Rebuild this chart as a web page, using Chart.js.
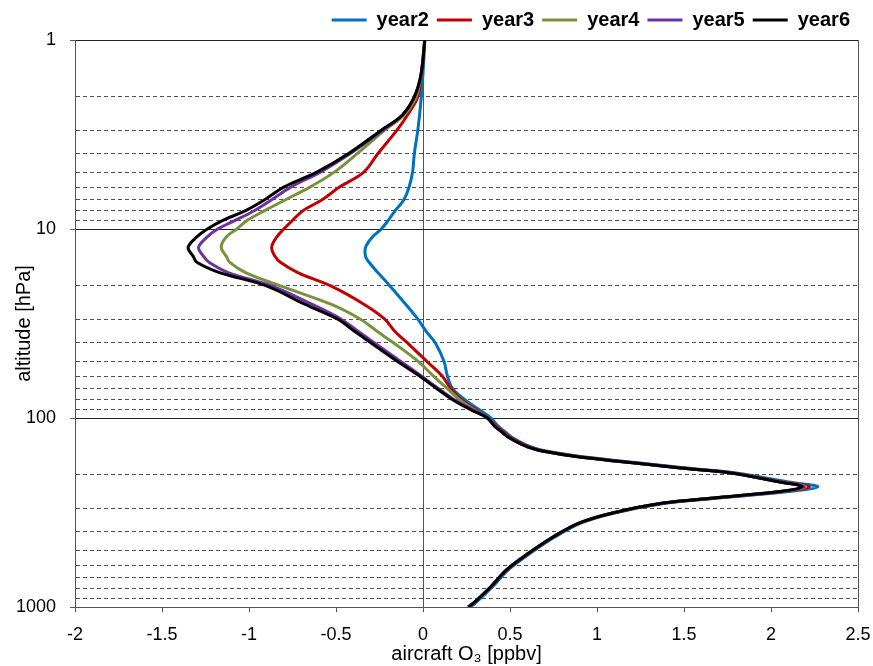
<!DOCTYPE html>
<html>
<head>
<meta charset="utf-8">
<script src="https://cdn.jsdelivr.net/npm/chart.js@4.4.1/dist/chart.umd.min.js"></script>
<style>
  html, body { margin: 0; padding: 0; background: #fff; }
  #wrap { width: 873px; height: 666px; }
</style>
</head>
<body>
<div id="wrap"><canvas id="o3Chart" width="873" height="666"></canvas></div>
<script>
// pressure levels [hPa] shared by all series
const pressureLevels = [1, 1.5, 2, 2.5, 3, 4, 5, 6, 7, 8, 9, 10, 11, 12.5, 14, 15, 17, 20, 25, 30, 35, 40, 50, 60, 70, 80, 90,
  100, 110, 120, 128, 142, 151, 161, 172, 184, 195, 218, 231, 245, 265, 282, 318, 359, 425, 517, 636, 781, 955, 1000];

const seriesNames = ['year2', 'year3', 'year4', 'year5', 'year6'];

// aircraft O3 [ppbv]
const year2 = [0.01, 0.0, -0.01, -0.02, -0.03, -0.05, -0.06, -0.08, -0.11, -0.16, -0.20, -0.24, -0.29, -0.33, -0.33, -0.31, -0.26, -0.19, -0.10, -0.03, 0.02, 0.07, 0.12, 0.14, 0.17, 0.24, 0.32,
  0.39, 0.43, 0.48, 0.52, 0.62, 0.73, 0.93, 1.22, 1.51, 1.79, 2.10, 2.27, 2.10, 1.70, 1.40, 1.10, 0.91, 0.76, 0.62, 0.49, 0.40, 0.30, 0.27];
const year3 = [0.01, -0.01, -0.03, -0.09, -0.15, -0.26, -0.34, -0.48, -0.58, -0.69, -0.75, -0.80, -0.84, -0.87, -0.85, -0.82, -0.72, -0.53, -0.34, -0.22, -0.16, -0.09, 0.02, 0.11, 0.16, 0.22, 0.30,
  0.37, 0.42, 0.47, 0.51, 0.61, 0.72, 0.91, 1.20, 1.49, 1.77, 2.07, 2.22, 2.07, 1.68, 1.39, 1.09, 0.90, 0.75, 0.61, 0.48, 0.39, 0.29, 0.26];
const year4 = [0.01, -0.01, -0.04, -0.11, -0.22, -0.38, -0.51, -0.65, -0.79, -0.91, -1.01, -1.07, -1.13, -1.16, -1.13, -1.11, -1.02, -0.82, -0.53, -0.36, -0.26, -0.17, -0.03, 0.06, 0.14, 0.21, 0.29,
  0.37, 0.41, 0.46, 0.50, 0.60, 0.71, 0.90, 1.19, 1.48, 1.76, 2.06, 2.20, 2.06, 1.67, 1.38, 1.09, 0.90, 0.75, 0.61, 0.48, 0.39, 0.29, 0.26];
const year5 = [0.01, -0.01, -0.05, -0.12, -0.23, -0.42, -0.59, -0.76, -0.87, -0.97, -1.08, -1.18, -1.24, -1.29, -1.26, -1.23, -1.12, -0.87, -0.64, -0.47, -0.37, -0.28, -0.13, -0.01, 0.09, 0.18, 0.28,
  0.37, 0.41, 0.46, 0.50, 0.60, 0.71, 0.90, 1.19, 1.48, 1.76, 2.05, 2.19, 2.05, 1.67, 1.38, 1.09, 0.90, 0.75, 0.61, 0.48, 0.39, 0.29, 0.26];
const year6 = [0.01, -0.01, -0.05, -0.12, -0.24, -0.43, -0.61, -0.80, -0.91, -1.02, -1.15, -1.24, -1.30, -1.35, -1.32, -1.30, -1.17, -0.90, -0.68, -0.49, -0.39, -0.30, -0.15, -0.02, 0.08, 0.17, 0.27,
  0.37, 0.41, 0.46, 0.50, 0.60, 0.71, 0.90, 1.19, 1.48, 1.76, 2.05, 2.18, 2.05, 1.67, 1.38, 1.09, 0.90, 0.75, 0.61, 0.48, 0.39, 0.29, 0.26];

const seriesColors = ['#0070C0', '#C00000', '#77933C', '#7030A0', '#000000'];

const yTickValues = [1, 2, 3, 4, 5, 6, 7, 8, 9, 10, 20, 30, 40, 50, 60, 70, 80, 90, 100, 200, 300, 400, 500, 600, 700, 800, 900, 1000];
const yTickLabels = ['1', '10', '100', '1000'];

const allSeries = [year2, year3, year4, year5, year6];

const datasets = allSeries.map((vals, i) => ({
  label: seriesNames[i],
  data: vals.map((v, k) => ({ x: v, y: pressureLevels[k] })),
  borderColor: seriesColors[i],
  backgroundColor: seriesColors[i],
  borderWidth: 3,
  pointRadius: 0,
  showLine: true,
  tension: 0.35,
  order: allSeries.length - 1 - i   // year6 drawn on top
}));

Chart.defaults.font.family = '"Liberation Sans", Arial, sans-serif';
Chart.defaults.color = '#000';

const isDecade = v => Math.abs(Math.log10(v) - Math.round(Math.log10(v))) < 1e-9;

new Chart(document.getElementById('o3Chart').getContext('2d'), {
  type: 'scatter',
  data: { datasets: datasets },
  options: {
    responsive: false,
    animation: false,
    layout: { padding: { left: 10, right: 15, top: 2, bottom: 2 } },
    scales: {
      x: {
        type: 'linear',
        min: -2,
        max: 2.5,
        afterFit: scale => { scale.paddingRight = 0; },
        ticks: {
          stepSize: 0.5,
          font: { size: 18, lineHeight: 1 },
          padding: 14,
          callback: v => String(v)
        },
        grid: {
          color: ctx => (ctx.tick && (ctx.tick.value === 0 || ctx.tick.value === 2.5)) ? '#555' : 'rgba(0,0,0,0)',
          tickColor: '#555',
          tickLength: 5,
          lineWidth: 1
        },
        border: { color: '#555', width: 1 },
        title: {
          display: true,
          text: 'aircraft O₃ [ppbv]',
          font: { size: 20, lineHeight: 1 },
          padding: { top: -14, bottom: 0 }
        }
      },
      y: {
        type: 'logarithmic',
        reverse: true,
        min: 1,
        max: 1000,
        afterBuildTicks: axis => {
          axis.ticks = yTickValues.map(v => ({ value: v, major: isDecade(v) }));
        },
        ticks: {
          autoSkip: false,
          font: { size: 18, lineHeight: 1 },
          padding: 14,
          callback: v => isDecade(v) ? yTickLabels[Math.round(Math.log10(v))] : ''
        },
        grid: {
          color: ctx => (ctx.tick && isDecade(ctx.tick.value)) ? '#222' : '#505050',
          tickColor: ctx => (ctx.tick && isDecade(ctx.tick.value)) ? '#555' : 'rgba(0,0,0,0)',
          tickLength: 5,
          lineWidth: 1
        },
        border: {
          color: '#555',
          width: 1,
          dash: ctx => (ctx.tick && !isDecade(ctx.tick.value)) ? [4, 3] : []
        },
        title: {
          display: true,
          text: 'altitude [hPa]',
          font: { size: 20, lineHeight: 1 },
          padding: { top: 4, bottom: -32 }
        }
      }
    },
    plugins: {
      legend: {
        position: 'top',
        align: 'end',
        labels: {
          boxWidth: 35,
          boxHeight: 0,
          padding: 8,
          font: { size: 20, weight: 'bold' },
          sort: (a, b) => a.datasetIndex - b.datasetIndex
        }
      },
      tooltip: { enabled: false }
    }
  }
});
</script>
</body>
</html>
